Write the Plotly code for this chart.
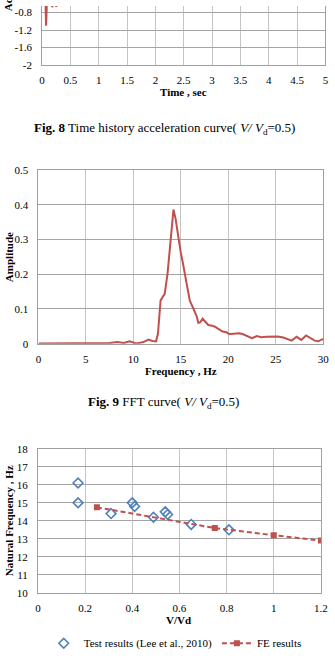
import plotly.graph_objects as go

W, H = 335, 660
SERIF = "'Liberation Serif', 'Times New Roman', serif"
RED = "#C0504D"
BLUE = "#4F81BD"

# ---- Fig. 8 : time history (only the lowest part is visible) ----
time_s = [0.0, 0.02, 0.04, 0.055, 0.07, 0.085, 0.10, 0.12, 0.15, 0.178, 0.19, 0.21, 0.25, 0.27,
          0.30, 0.35, 0.40, 0.50, 0.60, 0.80, 1.00, 1.50, 2.00, 3.00, 4.00, 5.00]
accel = [0.0, 0.35, 0.6, -0.3, -1.1, -0.5, 0.55, 0.7, 0.1, -0.68, -0.45, -0.2, -0.67, -0.3,
         0.4, -0.4, 0.3, -0.3, 0.2, -0.15, 0.1, -0.05, 0.03, -0.02, 0.01, 0.0]
accel_ticks = [-2, -1.6, -1.2, -0.8]
accel_ticktext = ["-2", "-1.6", "-1.2", "-0.8"]

# ---- Fig. 9 : FFT curve ----
freq_hz = [0, 2, 4, 5, 6, 7.5, 8.3, 9.0, 9.6, 10.0, 10.3, 11.0, 11.6, 12.0, 12.4, 12.6, 12.87,
           13.1, 13.3, 13.6, 13.9, 14.23, 14.45, 14.7, 14.98, 15.2, 15.5, 15.95, 16.35, 16.7,
           16.85, 17.05, 17.3, 17.6, 17.9, 18.3, 18.6, 19.0, 19.4, 19.8, 20.1, 20.6, 21.1, 21.5,
           22.0, 22.5, 23.0, 23.5, 24.0, 24.5, 25.2, 25.8, 26.3, 26.7, 27.2, 27.7, 28.2, 28.6,
           29.1, 29.5, 29.9, 30]
amplitude = [0.001, 0.001, 0.001, 0.002, 0.001, 0.002, 0.005, 0.002, 0.007, 0.004, 0.001, 0.004,
             0.012, 0.008, 0.007, 0.03, 0.124, 0.135, 0.143, 0.2, 0.29, 0.386, 0.36, 0.31, 0.265,
             0.235, 0.19, 0.124, 0.1, 0.077, 0.06, 0.062, 0.072, 0.062, 0.054, 0.052, 0.049,
             0.042, 0.035, 0.033, 0.028, 0.029, 0.03, 0.028, 0.022, 0.016, 0.022, 0.019, 0.02,
             0.02, 0.021, 0.018, 0.013, 0.009, 0.02, 0.011, 0.024, 0.018, 0.009, 0.007, 0.013, 0.012]

# ---- Fig. 10 : natural frequency vs V/Vd ----
test_v = [0.17, 0.17, 0.31, 0.40, 0.41, 0.49, 0.54, 0.55, 0.65, 0.81]
test_f = [16.1, 15.0, 14.4, 15.0, 14.8, 14.2, 14.5, 14.35, 13.8, 13.5]
fe_v = [0.25, 0.75, 1.0, 1.2]
fe_f = [14.75, 13.6, 13.2, 12.9]


def px(x):
    return x / W


def py(y):
    return 1 - y / H


fig = go.Figure()
fig.add_trace(go.Scatter(x=time_s, y=accel, mode="lines", line=dict(color=RED, width=2),
                         xaxis="x", yaxis="y", showlegend=False))
fig.add_trace(go.Scatter(x=freq_hz, y=amplitude, mode="lines", line=dict(color=RED, width=2),
                         xaxis="x2", yaxis="y2", showlegend=False))
fig.add_trace(go.Scatter(x=test_v, y=test_f, mode="markers", name="Test results (Lee et al., 2010)",
                         marker=dict(symbol="diamond-open", size=7.5, color=BLUE, line=dict(width=1.6, color=BLUE)),
                         xaxis="x3", yaxis="y3"))
fig.add_trace(go.Scatter(x=fe_v, y=fe_f, mode="lines+markers", name="FE results",
                         line=dict(color=RED, width=2, dash="5px,3px"),
                         marker=dict(symbol="square", size=6, color=RED),
                         xaxis="x3", yaxis="y3"))

tickfont = dict(family=SERIF, size=11, color="#000")
VGRID = "#c4c4c4"
HGRID = "#a4a4a4"
common_x = dict(showgrid=True, gridcolor=VGRID, gridwidth=1, zeroline=False, ticks="",
                tickfont=tickfont, showline=True, linecolor="#a0a0a0", linewidth=1, ticklabelstandoff=5)
common_y = dict(showgrid=True, gridcolor=HGRID, gridwidth=1, zeroline=False, ticks="",
                tickfont=tickfont, showline=True, linecolor="#a0a0a0", linewidth=1, ticklabelstandoff=7)

fig.update_layout(
    width=W, height=H, margin=dict(l=0, r=0, t=0, b=0),
    paper_bgcolor="white", plot_bgcolor="white",
    font=dict(family=SERIF, size=11, color="#000"),
    xaxis=dict(domain=[px(40.3), px(332.3)], range=[0, 5], dtick=0.5, anchor="y", **common_x),
    yaxis=dict(domain=[py(60), 1], range=[-2, -0.65], tickmode="array", tickvals=accel_ticks,
               ticktext=accel_ticktext, anchor="x", mirror=True, **common_y),
    xaxis2=dict(domain=[px(36.5), px(330)], range=[0, 30], dtick=5, anchor="y2", mirror=True, **common_x),
    yaxis2=dict(domain=[py(344), py(167)], range=[0, 0.5], dtick=0.1, anchor="x2", mirror=True, **common_y),
    xaxis3=dict(domain=[px(36), px(327.7)], range=[0, 1.2], dtick=0.2, anchor="y3", mirror=True, **common_x),
    yaxis3=dict(domain=[py(597.7), py(451)], range=[10, 18], dtick=1, anchor="x3", mirror=True, **common_y),
    legend=dict(orientation="h", x=px(42), y=py(649), xanchor="left", yanchor="middle",
                font=dict(family=SERIF, size=11, color="#000"), bgcolor="rgba(0,0,0,0)",
                itemsizing="trace"),
)

ann = []


def label(text, x, y, size=11, angle=0, xa="center", ya="middle"):
    ann.append(dict(text=text, x=px(x), y=py(y), xref="paper", yref="paper", showarrow=False,
                    textangle=angle, xanchor=xa, yanchor=ya, font=dict(family=SERIF, size=size, color="#000")))


label("<b>Time , sec</b>", 186.5, 87.7)
label("<b>Acceleration , g</b>", 5.5, 7.5, angle=-90, ya="bottom")
label("<b>Fig. 8</b> Time history acceleration curve( <i>V/ V</i><sub>d</sub>=0.5)", 166, 125, size=13)
label("<b>Amplitude</b>", 7, 256, angle=-90)
label("<b>Frequency , Hz</b>", 183, 371.7)
label("<b>Fig. 9</b> FFT curve( <i>V/ V</i><sub>d</sub>=0.5)", 165, 404, size=13)
label("<b>Natural Frequency , Hz</b>", 7, 524, angle=-90)
label("<b>V/Vd</b>", 180.5, 625)

fig.update_layout(annotations=ann)
fig.write_html("out.html")
